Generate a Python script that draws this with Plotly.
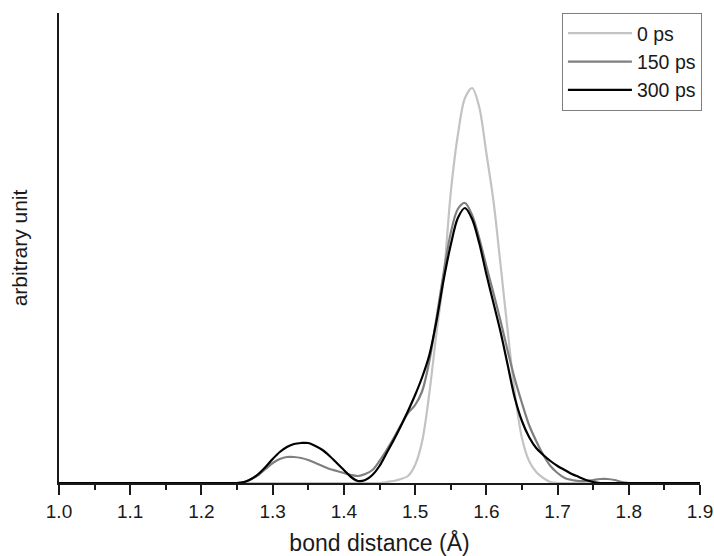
import plotly.graph_objects as go

# bond distance grid (Å)
x_vals = [round(1.00 + 0.01 * i, 2) for i in range(91)]

# values (arbitrary unit), listed from 1.25 to 1.80
x_read = [1.25, 1.26, 1.27, 1.28, 1.29, 1.30, 1.31, 1.32, 1.33, 1.34,
          1.35, 1.36, 1.37, 1.38, 1.39, 1.40, 1.41, 1.42, 1.43, 1.44,
          1.45, 1.46, 1.47, 1.48, 1.49, 1.50, 1.51, 1.52, 1.53, 1.54,
          1.55, 1.56, 1.57, 1.58, 1.59, 1.60, 1.61, 1.62, 1.63, 1.64,
          1.65, 1.66, 1.67, 1.68, 1.69, 1.70, 1.71, 1.72, 1.73, 1.74,
          1.75, 1.76, 1.77, 1.78, 1.79, 1.80]

ps0 = [0, 0, 0, 0, 0, 0, 0, 0, 0, 0,
       0, 0, 0, 0, 0, 0, 0, 0, 0, 0,
       0, 1, 2, 4, 7, 18, 42, 90, 150, 205,
       290, 348, 385, 395, 376, 330, 282, 218, 152, 90,
       45, 22, 11, 5, 1, 0, 0, 0, 0, 0,
       0, 0, 0, 0, 0, 0]

ps150 = [0, 1, 4, 8, 14, 20, 24, 26, 26, 25,
         23, 20, 17, 14, 12, 10, 8, 7, 9, 13,
         22, 33, 45, 58, 70, 78, 92, 122, 165, 210,
         250, 274, 280, 268, 245, 217, 190, 162, 132, 104,
         80, 58, 42, 28, 17, 10, 5, 3, 2, 2,
         3, 4, 4, 3, 1, 0]

ps300 = [0, 1, 4, 9, 16, 24, 31, 36, 39, 40,
         40, 37, 33, 27, 20, 13, 6, 2, 3, 8,
         17, 30, 43, 57, 72, 88, 106, 128, 162, 203,
         238, 265, 275, 264, 240, 209, 180, 151, 118, 85,
         62, 46, 35, 28, 22, 17, 13, 9, 6, 3,
         1, 0, 0, 0, 0, 0]

series_names = ["0 ps", "150 ps", "300 ps"]
series_colors = ["#c3c3c3", "#7f7f7f", "#000000"]


def full(values):
    lookup = dict(zip(x_read, values))
    return [lookup.get(x, 0) for x in x_vals]


fig = go.Figure()
for name, vals, col in zip(series_names, [ps0, ps150, ps300], series_colors):
    fig.add_trace(go.Scatter(
        x=x_vals, y=full(vals), mode="lines", name=name,
        line=dict(color=col, width=2.2, shape="spline", smoothing=0.9),
        legendgroup=name,
    ))

fig.update_layout(
    width=714, height=556,
    margin=dict(l=59, r=14, t=13, b=73),
    paper_bgcolor="white", plot_bgcolor="white",
    font=dict(family="Liberation Sans, Arial, sans-serif", size=18, color="#1a1a1a"),
    showlegend=True,
    legend=dict(
        x=1.003, y=1.0, xanchor="right", yanchor="top",
        bordercolor="#7f7f7f", borderwidth=1, bgcolor="white",
        font=dict(size=19.5, color="#1a1a1a"),
        itemwidth=64, tracegroupgap=0, traceorder="normal",
    ),
    xaxis=dict(
        range=[1.0, 1.9], tickmode="array", automargin=False,
        tickvals=[1.0, 1.1, 1.2, 1.3, 1.4, 1.5, 1.6, 1.7, 1.8, 1.9],
        ticktext=["1.0", "1.1", "1.2", "1.3", "1.4", "1.5", "1.6", "1.7", "1.8", "1.9"],
        ticks="outside", ticklen=10, tickwidth=2, tickcolor="#1a1a1a",
        minor=dict(ticks="outside", ticklen=5, tickwidth=2, tickcolor="#1a1a1a",
                   tickvals=[1.05, 1.15, 1.25, 1.35, 1.45, 1.55, 1.65, 1.75, 1.85]),
        showline=True, linecolor="#1a1a1a", linewidth=2,
        showgrid=False, zeroline=False,
        tickfont=dict(size=19),
        title=dict(text="bond distance (Å)", font=dict(size=23), standoff=14),
    ),
    yaxis=dict(
        range=[0, 470], showticklabels=False, ticks="", automargin=False,
        showline=True, linecolor="#1a1a1a", linewidth=2,
        showgrid=False, zeroline=False,
        title=dict(text="arbitrary unit", font=dict(size=21), standoff=24),
    ),
)

fig.write_html("out.html", config={"displayModeBar": False})

# remove the browser's default page margin so the figure sits at (0, 0)
with open("out.html", "r", encoding="utf-8") as f:
    html = f.read()
html = html.replace("<body>", '<body style="margin:0;padding:0;overflow:hidden">', 1)
with open("out.html", "w", encoding="utf-8") as f:
    f.write(html)
